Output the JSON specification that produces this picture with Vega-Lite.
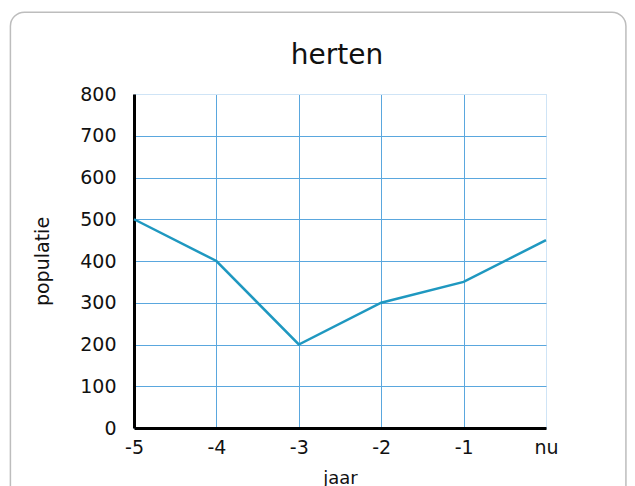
{
  "$schema": "https://vega.github.io/schema/vega-lite/v6.json",
  "autosize": {"type": "none"},
  "width": 412,
  "height": 334,
  "padding": {"left": 134, "top": 94, "right": 89, "bottom": 58},
  "background": "white",
  "title": {
    "text": "herten",
    "fontSize": 28,
    "font": "DejaVu Sans",
    "fontWeight": "normal",
    "color": "#111111",
    "anchor": "middle",
    "frame": "group",
    "baseline": "alphabetic",
    "offset": -81,
    "dx": -3
  },
  "config": {
    "view": {"stroke": "#cfe4f6", "strokeWidth": 1},
    "font": "DejaVu Sans"
  },
  "layer": [
    {
      "data": {"values": [{"x1": -6.5, "x2": 0.97, "y1": 996, "y2": -172}]},
      "mark": {"type": "rect", "fill": null, "stroke": "#bdbdbd", "strokeWidth": 1.5, "cornerRadius": 14, "clip": false},
      "encoding": {
        "x": {"field": "x1", "type": "quantitative"},
        "x2": {"field": "x2"},
        "y": {"field": "y1", "type": "quantitative"},
        "y2": {"field": "y2"}
      }
    },
    {
      "data": {
        "values": [
          {"jaar": -5, "populatie": 500},
          {"jaar": -4, "populatie": 400},
          {"jaar": -3, "populatie": 200},
          {"jaar": -2, "populatie": 300},
          {"jaar": -1, "populatie": 350},
          {"jaar": 0, "populatie": 450}
        ]
      },
      "mark": {"type": "line", "color": "#1f98c0", "strokeWidth": 2.5},
      "encoding": {
        "x": {"field": "jaar", "type": "quantitative"},
        "y": {"field": "populatie", "type": "quantitative"}
      }
    }
  ],
  "encoding": {
    "x": {
      "type": "quantitative",
      "scale": {"domain": [-5, 0], "nice": false, "zero": false},
      "axis": {
        "values": [-5, -4, -3, -2, -1, 0],
        "labelExpr": "datum.value == 0 ? 'nu' : '' + datum.value",
        "labelFlush": false,
        "title": "jaar",
        "titleFontSize": 18,
        "titleFontWeight": "normal",
        "titleColor": "#111111",
        "titlePadding": 12,
        "labelFontSize": 19,
        "labelColor": "#111111",
        "labelPadding": 10,
        "ticks": false,
        "domainColor": "#000000",
        "domainWidth": 3,
        "gridColor": {"condition": {"test": "datum.value == 0", "value": "#cfe4f6"}, "value": "#5aa7de"},
        "gridWidth": 1
      }
    },
    "y": {
      "type": "quantitative",
      "scale": {"domain": [0, 800], "nice": false},
      "axis": {
        "values": [0, 100, 200, 300, 400, 500, 600, 700, 800],
        "title": "populatie",
        "titleFontSize": 19,
        "titleFontWeight": "normal",
        "titleColor": "#111111",
        "titlePadding": 27,
        "labelFontSize": 19,
        "labelColor": "#111111",
        "labelPadding": 18,
        "ticks": false,
        "domainColor": "#000000",
        "domainWidth": 3,
        "gridColor": {"condition": {"test": "datum.value == 800", "value": "#cfe4f6"}, "value": "#5aa7de"},
        "gridWidth": 1
      }
    }
  }
}
